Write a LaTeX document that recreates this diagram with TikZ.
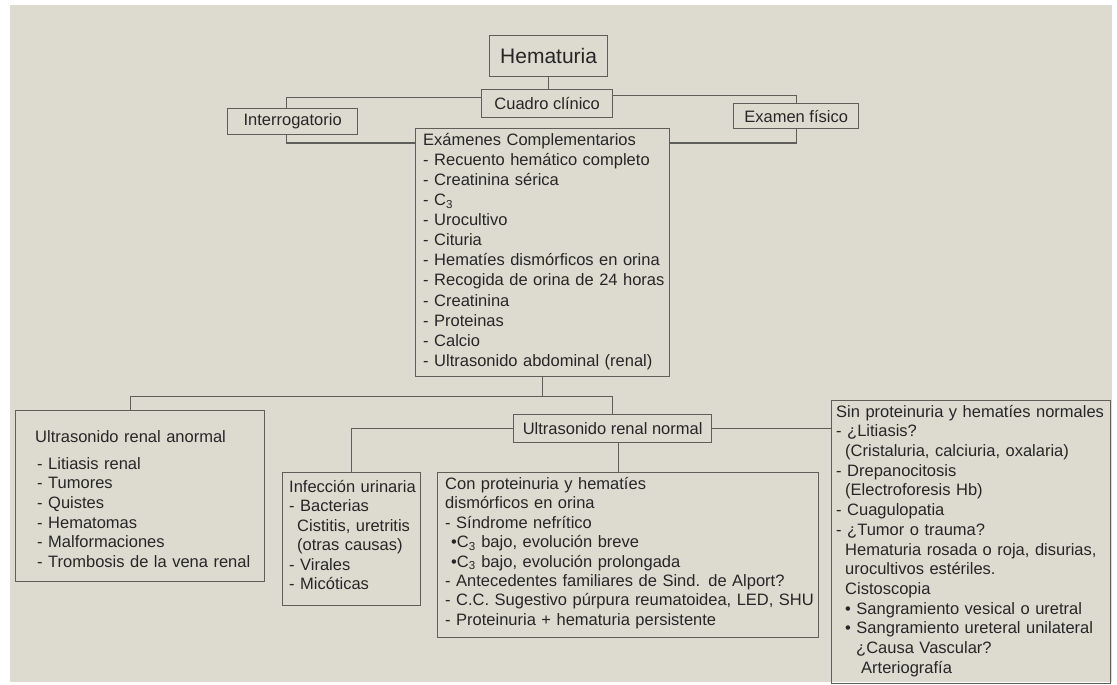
\documentclass[tikz,border=0pt]{standalone}
\usepackage{fontspec}
\setmainfont{Liberation Sans}
\usetikzlibrary{calc}
\definecolor{bg}{RGB}{221,219,208}
\definecolor{ln}{RGB}{95,95,90}
\definecolor{tx}{RGB}{38,38,38}
\begin{document}
\begin{tikzpicture}[x=1pt,y=-1pt,
  box/.style={draw=ln, line width=1.3pt, inner sep=0pt, anchor=north west},
  lbl/.style={text=tx, inner sep=0pt, font=\fontsize{16.5}{20}\selectfont},
  txt/.style={text=tx, inner sep=0pt, anchor=north west, align=left, text width=420pt},
  conn/.style={draw=ln, line width=1.3pt}]
\useasboundingbox (0,0) rectangle (1117,685);
\fill[white] (0,0) rectangle (1117,685);
\fill[bg] (10,5) rectangle (1112,682);

% boxes
\node[box, minimum width=118pt, minimum height=41pt] (hema) at (489,35) {};
\node[box, minimum width=131pt, minimum height=28pt] (cuadro) at (481,89) {};
\node[box, minimum width=130pt, minimum height=26pt] (interr) at (227,108) {};
\node[box, minimum width=125pt, minimum height=25pt] (examen) at (733,103) {};
\node[box, minimum width=254pt, minimum height=248pt] (exam) at (415,128) {};
\node[box, minimum width=249pt, minimum height=171pt] (anorm) at (15,410) {};
\node[box, minimum width=198pt, minimum height=28pt] (normal) at (513,414) {};
\node[box, minimum width=138pt, minimum height=133pt] (infec) at (282,472) {};
\node[box, minimum width=381pt, minimum height=165pt] (con) at (437,472) {};
\node[box, minimum width=279pt, minimum height=283pt] (sin) at (831,400) {};

% single labels
\node[lbl, font=\fontsize{21}{24}\selectfont] (hemat) at (hema.center) {Hematuria};
\node[lbl] (cuadrot) at (cuadro.center) {Cuadro clínico};
\node[lbl] (interrt) at (interr.center) {Interrogatorio};
\node[lbl] (exament) at (examen.center) {Examen físico};
\node[lbl] (normalt) at (normal.center) {Ultrasonido renal normal};

% multi-line texts
\node[txt, font=\fontsize{16.5}{20.1}\selectfont] (examt) at (423,131) {\strut Exámenes Complementarios\\
- Recuento hemático completo\\
- Creatinina sérica\\
- C\textsubscript{3}\\
- Urocultivo\\
- Cituria\\
- Hematíes dismórficos en orina\\
- Recogida de orina de 24 horas\\
- Creatinina\\
- Proteinas\\
- Calcio\\
- Ultrasonido abdominal (renal)};

\node[txt, font=\fontsize{16.5}{19.6}\selectfont] (anormt) at (35,428.3) {\strut Ultrasonido renal anormal\\[7.4pt]
\hspace*{2pt}- Litiasis renal\\
\hspace*{2pt}- Tumores\\
\hspace*{2pt}- Quistes\\
\hspace*{2pt}- Hematomas\\
\hspace*{2pt}- Malformaciones\\
\hspace*{2pt}- Trombosis de la vena renal};

\node[txt, font=\fontsize{16.5}{19.5}\selectfont] (infect) at (289,478.4) {\strut Infección urinaria\\
- Bacterias\\
\hspace*{8pt}Cistitis, uretritis\\
\hspace*{8pt}(otras causas)\\
- Virales\\
- Micóticas};

\node[txt, font=\fontsize{16.5}{19.45}\selectfont] (cont) at (445,475.4) {\strut Con proteinuria y hematíes\\
dismórficos en orina\\
- Síndrome nefrítico\\
\hspace*{6pt}•C\textsubscript{3} bajo, evolución breve\\
\hspace*{6pt}•C\textsubscript{3} bajo, evolución prolongada\\
- Antecedentes familiares de Sind. de Alport?\\
- C.C. Sugestivo púrpura reumatoidea, LED, SHU\\
- Proteinuria + hematuria persistente};

\node[txt, font=\fontsize{16.5}{19.7}\selectfont] (sint) at (836,403.2) {\strut Sin proteinuria y hematíes normales\\
- ¿Litiasis?\\
\hspace*{9pt}(Cristaluria, calciuria, oxalaria)\\
- Drepanocitosis\\
\hspace*{9pt}(Electroforesis Hb)\\
- Cuagulopatia\\
- ¿Tumor o trauma?\\
\hspace*{9pt}Hematuria rosada o roja, disurias,\\
\hspace*{9pt}urocultivos estériles.\\
\hspace*{9pt}Cistoscopia\\
\hspace*{9pt}• Sangramiento vesical o uretral\\
\hspace*{9pt}• Sangramiento ureteral unilateral\\
\hspace*{20pt}¿Causa Vascular?\\
\hspace*{25pt}Arteriografía};

% connectors
\draw[conn] (hema.south) -- (hema.south |- cuadro.north);
\draw[conn] ($(cuadro.west)+(0,-6)$) -| ($(interr.north)+(-6,0)$);
\draw[conn] ($(cuadro.east)+(0,-8)$) -| (examen.north);
\draw[conn] ($(interr.south)+(-6,0)$) |- ($(exam.north west)+(0,15)$);
\draw[conn] (examen.south) |- ($(exam.north east)+(0,15)$);
\coordinate (bus) at ($(exam.south)+(0,19)$);
\draw[conn] (exam.south) -- (bus);
\draw[conn] ($(anorm.north)+(-9.5,0)$) |- (bus);
\draw[conn] (bus) -| (normal.north);
\draw[conn] (normal.west) -| (infec.north);
\coordinate (ns) at ($(normal.south)+(6,0)$);
\draw[conn] (ns) -- (ns |- con.north);
\draw[conn] (normal.east) -- (normal.east -| sin.west);
\end{tikzpicture}
\end{document}
